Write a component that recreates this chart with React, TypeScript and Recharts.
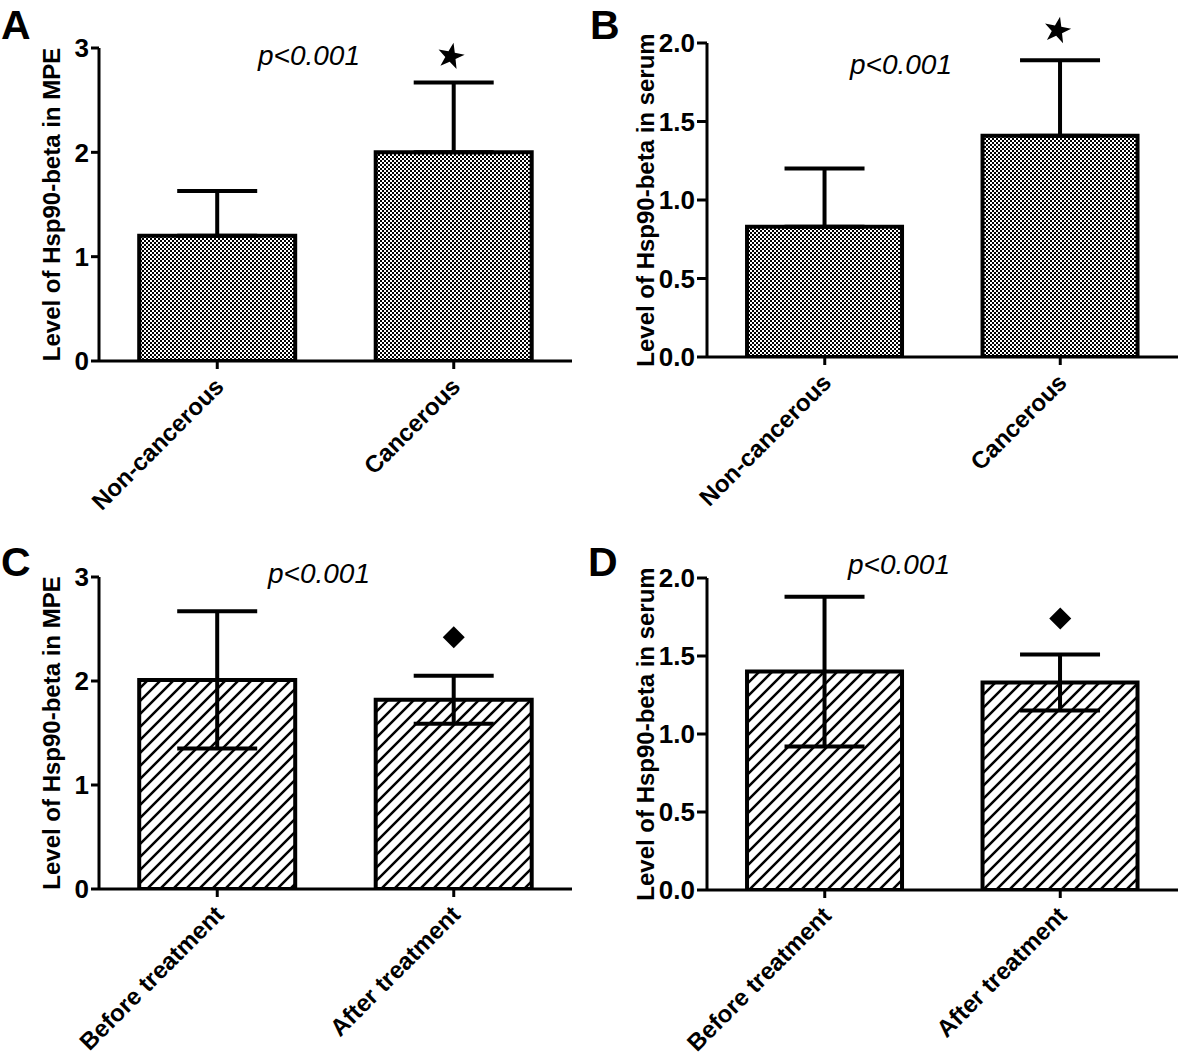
import {
  BarChart,
  Bar,
  XAxis,
  YAxis,
  ErrorBar,
  ReferenceDot,
} from "recharts";

const FONT = "'Liberation Sans', Arial, sans-serif";

// panel A / B: MPE and serum, non-cancerous vs cancerous
const groupCategories = ["Non-cancerous", "Cancerous"];
const mpeMeans = [1.2, 2.0];
const mpeErrors = [0.43, 0.67];
const serumMeans = [0.83, 1.41];
const serumErrors = [0.37, 0.48];

// panel C / D: before vs after treatment
const treatmentCategories = ["Before treatment", "After treatment"];
const mpeTreatMeans = [2.01, 1.82];
const mpeTreatErrors = [0.66, 0.23];
const serumTreatMeans = [1.4, 1.33];
const serumTreatErrors = [0.48, 0.18];

const mpeTicks = [0, 1, 2, 3];
const serumTicks = [0, 0.5, 1, 1.5, 2];

// significance marks (category, value)
const markA = { category: "Cancerous", value: 2.92 };
const markB = { category: "Cancerous", value: 2.08 };
const markC = { category: "After treatment", value: 2.42 };
const markD = { category: "After treatment", value: 1.74 };

type Row = { name: string; mean: number; err: number | number[] };

const buildRows = (cats: string[], means: number[], errs: number[], upOnly: boolean): Row[] =>
  cats.map((name, i) => ({
    name,
    mean: means[i],
    err: upOnly ? [0, errs[i]] : errs[i],
  }));

const Star = ({ cx, cy }: any) => {
  const pts: string[] = [];
  for (let i = 0; i < 10; i++) {
    const r = i % 2 === 0 ? 14 : 5.5;
    const a = -Math.PI / 2 + 0.2 + (i * Math.PI) / 5;
    pts.push(`${cx - 3 + r * Math.cos(a)},${cy + r * Math.sin(a)}`);
  }
  return <polygon points={pts.join(" ")} fill="#000" />;
};

const Diamond = ({ cx, cy }: any) => (
  <polygon
    points={`${cx},${cy - 11} ${cx + 11},${cy} ${cx},${cy + 11} ${cx - 11},${cy}`}
    fill="#000"
  />
);

const XTick = ({ x, y, payload }: any) => {
  const ax = x + 8;
  const ay = y + 19;
  return (
    <text
      x={ax}
      y={ay}
      textAnchor="end"
      transform={`rotate(-45 ${ax} ${ay})`}
      fontSize={24}
      fontWeight="bold"
      fontFamily={FONT}
      fill="#000"
    >
      {payload.value}
    </text>
  );
};

interface PanelProps {
  id: string;
  rows: Row[];
  left: number;
  top: number;
  width: number;
  yWidth: number;
  labelDx: number;
  marginTop: number;
  marginRight: number;
  xHeight: number;
  domain: [number, number];
  ticks: number[];
  decimals: number;
  tickSize: number;
  yLabel: string;
  hatch: boolean;
  mark: { category: string; value: number };
  star: boolean;
}

const Panel = (p: PanelProps) => {
  const fillId = `${p.id}-fill`;
  return (
    <div style={{ position: "absolute", left: p.left, top: p.top }}>
      <BarChart
        width={p.width}
        height={529}
        data={p.rows}
        margin={{ top: p.marginTop, right: p.marginRight, left: 0, bottom: 0 }}
        barCategoryGap="17%"
      >
        <defs>
          {p.hatch ? (
            <pattern id={fillId} patternUnits="userSpaceOnUse" width={13} height={13}>
              <rect width={13} height={13} fill="#fff" />
              <path
                d="M-3,3 L3,-3 M0,13 L13,0 M10,16 L16,10"
                stroke="#000"
                strokeWidth={2.5}
              />
            </pattern>
          ) : (
            <pattern id={fillId} patternUnits="userSpaceOnUse" width={4} height={4}>
              <rect width={4} height={4} fill="#fff" />
              <rect x={0} y={0} width={2} height={2} fill="#000" />
              <rect x={2} y={2} width={2} height={2} fill="#000" />
            </pattern>
          )}
        </defs>
        <XAxis
          dataKey="name"
          height={p.xHeight}
          interval={0}
          axisLine={{ stroke: "#000", strokeWidth: 3 }}
          tickLine={{ stroke: "#000", strokeWidth: 3 }}
          tickSize={8}
          tickMargin={0}
          tick={<XTick />}
        />
        <YAxis
          width={p.yWidth}
          domain={p.domain}
          ticks={p.ticks}
          interval={0}
          allowDataOverflow
          axisLine={{ stroke: "#000", strokeWidth: 3 }}
          tickLine={{ stroke: "#000", strokeWidth: 3 }}
          tickSize={p.tickSize}
          tickMargin={2}
          tickFormatter={(v: number) => v.toFixed(p.decimals)}
          tick={{ fill: "#000", fontSize: 26, fontWeight: "bold", fontFamily: FONT }}
          label={{
            value: p.yLabel,
            angle: -90,
            position: "center",
            dx: p.labelDx,
            fill: "#000",
            fontSize: 24,
            fontWeight: "bold",
            fontFamily: FONT,
          }}
        />
        <Bar
          dataKey="mean"
          fill={`url(#${fillId})`}
          stroke="#000"
          strokeWidth={4}
          isAnimationActive={false}
        >
          <ErrorBar
            dataKey="err"
            direction="y"
            width={40}
            stroke="#000"
            strokeWidth={4}
            isAnimationActive={false}
          />
        </Bar>
        <ReferenceDot
          x={p.mark.category}
          y={p.mark.value}
          ifOverflow="visible"
          shape={p.star ? Star : Diamond}
        />
      </BarChart>
    </div>
  );
};

const letterStyle = { fontSize: 41, fontWeight: "bold" as const, fontFamily: FONT };
const pStyle = { fontSize: 28, fontStyle: "italic" as const, fontFamily: FONT };

export default function App() {
  return (
    <div
      style={{
        position: "absolute",
        left: 0,
        top: 0,
        width: 1181,
        height: 1058,
        background: "#fff",
        overflow: "hidden",
      }}
    >
      <Panel
        id="a"
        rows={buildRows(groupCategories, mpeMeans, mpeErrors, true)}
        left={0}
        top={0}
        width={590}
        yWidth={99}
        labelDx={2}
        marginTop={48}
        marginRight={18}
        xHeight={168}
        domain={[0, 3]}
        ticks={mpeTicks}
        decimals={0}
        tickSize={8}
        yLabel="Level of Hsp90-beta in MPE"
        hatch={false}
        mark={markA}
        star
      />
      <Panel
        id="b"
        rows={buildRows(groupCategories, serumMeans, serumErrors, true)}
        left={590}
        top={0}
        width={591}
        yWidth={117}
        labelDx={-3}
        marginTop={43}
        marginRight={3}
        xHeight={172}
        domain={[0, 2]}
        ticks={serumTicks}
        decimals={1}
        tickSize={10}
        yLabel="Level of Hsp90-beta in serum"
        hatch={false}
        mark={markB}
        star
      />
      <Panel
        id="c"
        rows={buildRows(treatmentCategories, mpeTreatMeans, mpeTreatErrors, false)}
        left={0}
        top={529}
        width={590}
        yWidth={99}
        labelDx={2}
        marginTop={48}
        marginRight={18}
        xHeight={169}
        domain={[0, 3]}
        ticks={mpeTicks}
        decimals={0}
        tickSize={8}
        yLabel="Level of Hsp90-beta in MPE"
        hatch
        mark={markC}
        star={false}
      />
      <Panel
        id="d"
        rows={buildRows(treatmentCategories, serumTreatMeans, serumTreatErrors, false)}
        left={590}
        top={529}
        width={591}
        yWidth={117}
        labelDx={-3}
        marginTop={49}
        marginRight={3}
        xHeight={168}
        domain={[0, 2]}
        ticks={serumTicks}
        decimals={1}
        tickSize={10}
        yLabel="Level of Hsp90-beta in serum"
        hatch
        mark={markD}
        star={false}
      />
      <svg
        width={1181}
        height={1058}
        style={{ position: "absolute", left: 0, top: 0, pointerEvents: "none" }}
      >
        <text x={1} y={39} {...letterStyle}>A</text>
        <text x={590} y={39} {...letterStyle}>B</text>
        <text x={1} y={576} {...letterStyle}>C</text>
        <text x={588} y={576} {...letterStyle}>D</text>
        <text x={258} y={65} {...pStyle}>p&lt;0.001</text>
        <text x={850} y={74} {...pStyle}>p&lt;0.001</text>
        <text x={268} y={583} {...pStyle}>p&lt;0.001</text>
        <text x={848} y={574} {...pStyle}>p&lt;0.001</text>
      </svg>
    </div>
  );
}
